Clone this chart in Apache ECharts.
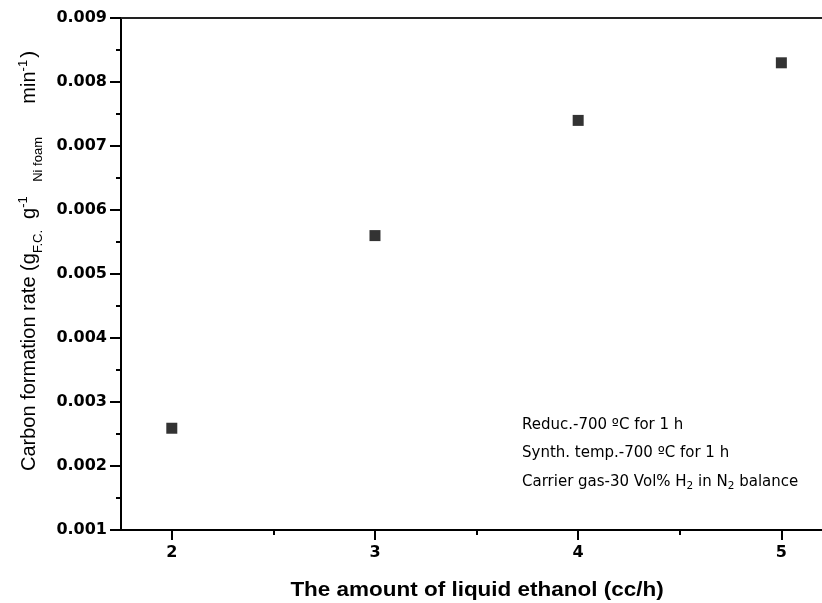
<!DOCTYPE html>
<html>
<head>
<meta charset="utf-8">
<script src="https://cdn.jsdelivr.net/npm/echarts@6/dist/echarts.min.js"></script>
<style>html,body{margin:0;padding:0;background:#fff}#c{width:822px;height:603px}</style>
</head>
<body>
<div id="c"></div>
<script>
const ethanolFlow = [2, 3, 4, 5];
const carbonRate = [0.00259, 0.0056, 0.0074, 0.0083];
const xTickValues = [2, 3, 4, 5];
const xMinorValues = [2.5, 3.5, 4.5];
const notes = [
  'Reduc.-700 \u00BAC for 1 h',
  'Synth. temp.-700 \u00BAC for 1 h',
  'Carrier gas-30 Vol% H{sub|2} in N{sub|2} balance'
];

const chart = echarts.init(document.getElementById('c'));
const xMin = 1.75, xMax = 5.2;
const labelFont = {color:'#000', fontFamily:'DejaVu Sans', fontWeight:'bold', fontSize:16};

chart.setOption({
  animation:false,
  grid:{left:121, right:-1, top:18, bottom:73},
  xAxis:[
    {type:'value', min:xMin, max:xMax, position:'bottom',
     axisLine:{onZero:false, lineStyle:{color:'#000', width:2}},
     axisTick:{customValues:xTickValues, length:10, lineStyle:{color:'#000', width:2}},
     axisLabel:Object.assign({customValues:xTickValues, margin:15}, labelFont),
     splitLine:{show:false}},
    {type:'value', min:xMin, max:xMax, position:'bottom',
     axisLine:{show:false, onZero:false},
     axisTick:{customValues:xMinorValues, length:5, lineStyle:{color:'#000', width:2}},
     axisLabel:{show:false}, splitLine:{show:false}},
    {type:'value', min:xMin, max:xMax, position:'top',
     axisLine:{onZero:false, lineStyle:{color:'#222', width:2}},
     axisTick:{show:false}, axisLabel:{show:false}, splitLine:{show:false}}
  ],
  yAxis:{type:'value', min:0.001, max:0.009, interval:0.001,
     axisLine:{onZero:false, lineStyle:{color:'#000', width:2}},
     axisTick:{length:11, lineStyle:{color:'#000', width:2}},
     minorTick:{show:true, splitNumber:2, length:5, lineStyle:{color:'#000', width:2}},
     axisLabel:Object.assign({margin:14, formatter:v=>v.toFixed(3)}, labelFont),
     splitLine:{show:false}},
  series:[{type:'scatter', xAxisIndex:0, symbol:'rect', symbolSize:11,
     itemStyle:{color:'#000'},
     data:ethanolFlow.map((x,i)=>[x, carbonRate[i]])}],
  graphic:[
    {type:'text', x:477, y:590, scaleX:1.07, style:{text:'The amount of liquid ethanol (cc/h)',
      font:'bold 21px "Liberation Sans Narrow", "Liberation Sans", sans-serif', fill:'#000',
      align:'center', verticalAlign:'middle'}},
    {type:'text', x:29, y:471, rotation:Math.PI/2, style:{
      text:'{n|Carbon formation rate (g}{sub|F.C.}{n|  g}{sup|-1}{sub|    Ni foam}{n|      min}{sup|-1}{p|)}',
      align:'left', verticalAlign:'middle', fill:'#000',
      rich:{
        n:{fontFamily:'Liberation Sans', fontSize:20, lineHeight:32, verticalAlign:'middle'},
        p:{fontFamily:'Liberation Sans', fontSize:21, lineHeight:32, verticalAlign:'middle', padding:[0,0,0,2]},
        sub:{fontFamily:'Liberation Sans', fontSize:13, lineHeight:32, verticalAlign:'bottom'},
        sup:{fontFamily:'Liberation Sans', fontSize:13, lineHeight:32, verticalAlign:'top', padding:[4,0,0,0]}
      }}},
    ...notes.map((t,i)=>({type:'text', x:522, y:425 + i*28.5, style:{
      text:'{n|' + t.replace(/\{sub\|2\}/g,'}{sub|2}{n|') + '}', align:'left', verticalAlign:'middle', fill:'#000',
      rich:{
        n:{fontFamily:'DejaVu Sans', fontSize:15, lineHeight:20, verticalAlign:'middle'},
        sub:{fontFamily:'DejaVu Sans', fontSize:10.5, lineHeight:20, verticalAlign:'bottom'}
      }}}))
  ]
});
</script>
</body>
</html>
